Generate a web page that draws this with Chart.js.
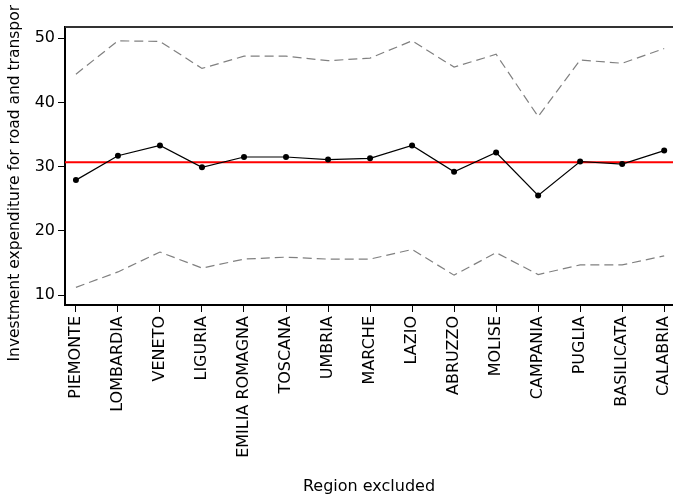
<!DOCTYPE html>
<html>
<head>
<meta charset="utf-8">
<script src="https://cdn.jsdelivr.net/npm/chart.js@4.4.0/dist/chart.umd.min.js"></script>
<style>
    html, body { margin: 0; padding: 0; background: #fff; }
    #wrap { width: 673px; height: 498px; position: relative; }
</style>
</head>
<body>
<div id="wrap"><canvas id="chart"></canvas></div>
<script>
// Regions (category on the x axis)
const regions = ['PIEMONTE', 'LOMBARDIA', 'VENETO', 'LIGURIA', 'EMILIA ROMAGNA', 'TOSCANA', 'UMBRIA',
    'MARCHE', 'LAZIO', 'ABRUZZO', 'MOLISE', 'CAMPANIA', 'PUGLIA', 'BASILICATA', 'CALABRIA'];

// Estimate with each region excluded
const estimate = [27.9, 31.7, 33.3, 29.9, 31.5, 31.5, 31.1, 31.3, 33.3, 29.2, 32.2, 25.5, 30.8, 30.4, 32.5];
// Upper and lower bounds (dashed)
const upperBound = [44.4, 49.6, 49.5, 45.3, 47.2, 47.2, 46.5, 46.9, 49.6, 45.5, 47.5, 37.8, 46.6, 46.1, 48.4];
const lowerBound = [11.2, 13.6, 16.7, 14.2, 15.6, 15.9, 15.6, 15.6, 17.1, 13.1, 16.6, 13.2, 14.7, 14.7, 16.1];
// Full-sample estimate (red reference line)
const fullEstimate = 30.7;

const yTicks = [10, 20, 30, 40, 50];
const X_MIN = -0.26, X_MAX = 14.21;
const Y_MIN = 8.45, Y_MAX = 51.75;

const toPoints = arr => arr.map((v, i) => ({ x: i, y: v }));

// top edge of the plot frame
const frameTop = {
    id: 'frameTop',
    afterDraw(chart) {
        const { ctx, chartArea } = chart;
        ctx.save();
        ctx.strokeStyle = '#333';
        ctx.lineWidth = 2;
        ctx.beginPath();
        ctx.moveTo(chartArea.left, chartArea.top);
        ctx.lineTo(chartArea.right, chartArea.top);
        ctx.stroke();
        ctx.restore();
    }
};

const font = 'DejaVu Sans';

new Chart(document.getElementById('chart'), {
    type: 'line',
    data: {
        datasets: [
            {
                label: 'estimate',
                data: toPoints(estimate),
                borderColor: '#000',
                backgroundColor: '#000',
                borderWidth: 1.2,
                pointRadius: 3,
                pointBorderWidth: 0,
                tension: 0,
                order: 0
            },
            {
                label: 'full sample',
                data: [{ x: X_MIN, y: fullEstimate }, { x: X_MAX, y: fullEstimate }],
                borderColor: '#ff0000',
                borderWidth: 2,
                pointRadius: 0,
                order: 1
            },
            {
                label: 'upper',
                data: toPoints(upperBound),
                borderColor: '#808080',
                borderWidth: 1.2,
                borderDash: [9, 5],
                pointRadius: 0,
                order: 2
            },
            {
                label: 'lower',
                data: toPoints(lowerBound),
                borderColor: '#808080',
                borderWidth: 1.2,
                borderDash: [9, 5],
                pointRadius: 0,
                order: 2
            }
        ]
    },
    options: {
        responsive: true,
        maintainAspectRatio: false,
        animation: false,
        layout: { autoPadding: false, padding: { top: 27, right: 0, left: 0, bottom: 0 } },
        plugins: { legend: { display: false }, tooltip: { enabled: false } },
        scales: {
            x: {
                type: 'linear',
                min: X_MIN,
                max: X_MAX,
                afterBuildTicks: s => { s.ticks = regions.map((_, i) => ({ value: i })); },
                afterFit: s => { s.height = 193; s.paddingLeft = 0; s.paddingRight = 0; },
                ticks: {
                    autoSkip: false,
                    minRotation: 90,
                    maxRotation: 90,
                    padding: 4,
                    color: '#000',
                    font: { family: font, size: 16 },
                    callback: v => regions[v]
                },
                grid: { drawOnChartArea: false, drawTicks: true, tickLength: 7, color: '#000' },
                border: { display: true, color: '#000', width: 2 },
                title: {
                    display: true,
                    text: 'Region excluded',
                    color: '#000',
                    font: { family: font, size: 16 },
                    padding: { top: 0, bottom: 2 }
                }
            },
            y: {
                min: Y_MIN,
                max: Y_MAX,
                afterBuildTicks: s => { s.ticks = yTicks.map(v => ({ value: v })); },
                afterFit: s => { s.width = 65; },
                ticks: {
                    padding: 3,
                    color: '#000',
                    font: { family: font, size: 16 }
                },
                grid: { drawOnChartArea: false, drawTicks: true, tickLength: 7, color: '#000' },
                border: { display: true, color: '#000', width: 2 },
                title: {
                    display: true,
                    // trailing spaces shift the visible text down like in the source
                    text: 'Investment expenditure for road and transpor       ',
                    color: '#000',
                    font: { family: font, size: 15.5 },
                    padding: { top: 6, bottom: 0 }
                }
            }
        }
    },
    plugins: [frameTop]
});
</script>
</body>
</html>
